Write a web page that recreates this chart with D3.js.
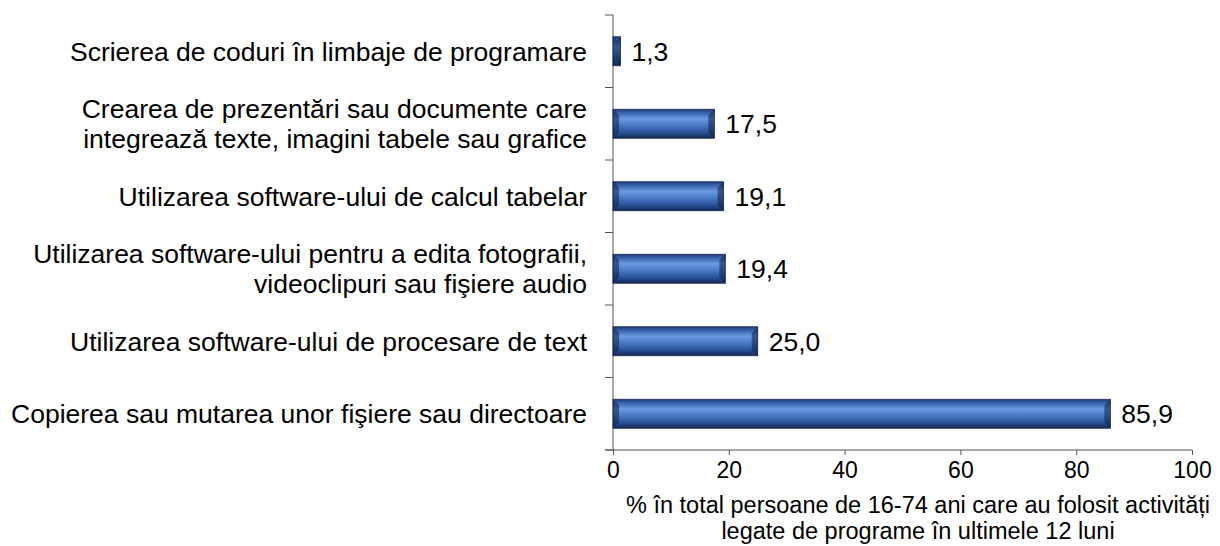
<!DOCTYPE html>
<html>
<head>
<meta charset="utf-8">
<script src="https://cdn.jsdelivr.net/npm/d3@7"></script>
<style>
  body { margin: 0; background: #fff; }
  svg text { font-family: "Liberation Sans", Arial, sans-serif; fill: #000; }
</style>
</head>
<body>
<div id="chart"></div>
<script>
// categories, top to bottom (each entry = lines of the label)
var categories = [
    ["Scrierea de coduri în limbaje de programare"],
    ["Crearea de prezentări sau documente care", "integrează texte, imagini tabele sau grafice"],
    ["Utilizarea software-ului de calcul tabelar"],
    ["Utilizarea software-ului pentru a edita fotografii,", "videoclipuri sau fişiere audio"],
    ["Utilizarea software-ului de procesare de text"],
    ["Copierea sau mutarea unor fişiere sau directoare"]
];
var values = [1.3, 17.5, 19.1, 19.4, 25.0, 85.9];
var xTicks = [0, 20, 40, 60, 80, 100];
var axisTitle = ["% în total persoane de 16-74 ani care au folosit activități", "legate de programe  în ultimele 12 luni"];

var width = 1220, height = 546;
var margin = { left: 613, right: 28, top: 15, bottom: 96 };

var svg = d3.select('#chart').append('svg')
    .attr('width', width)
    .attr('height', height);

var defs = svg.append('defs');
var grad = defs.append('linearGradient')
    .attr('id', 'barGrad')
    .attr('x1', 0).attr('y1', 0).attr('x2', 0).attr('y2', 1);
[[0, '#203b70'], [0.12, '#3560ac'], [0.33, '#6a9ae0'], [0.48, '#5585d0'],
 [0.75, '#2f5ba6'], [0.9, '#213d76'], [1, '#142850']].forEach(function (s) {
    grad.append('stop').attr('offset', s[0]).attr('stop-color', s[1]);
});

var g = svg.append('g').attr('transform', 'translate(' + margin.left + ',' + margin.top + ')');
var w = width - margin.left - margin.right;
var h = height - margin.top - margin.bottom;

var x = d3.scaleLinear().domain([0, 100]).range([0, w]);
var band = h / categories.length;

// x axis
var xAxis = g.append('g')
    .attr('transform', 'translate(0,' + h + ')')
    .call(d3.axisBottom(x).tickValues(xTicks).tickSize(5).tickPadding(7));
xAxis.attr('font-size', 23).attr('font-family', null);
xAxis.select('.domain').attr('stroke', '#555').attr('d', 'M-8,0H' + w);
xAxis.selectAll('.tick line').attr('stroke', '#555');
xAxis.selectAll('.tick text').style('font-size', '23px').attr('fill', '#000');

// y axis line + ticks at band boundaries
g.append('line').attr('x1', 0).attr('x2', 0).attr('y1', 0).attr('y2', h).attr('stroke', '#555');
g.selectAll('.ytick').data(d3.range(categories.length + 1)).enter().append('line')
    .attr('class', 'ytick')
    .attr('x1', -8).attr('x2', 0)
    .attr('y1', function (d) { return d * band; })
    .attr('y2', function (d) { return d * band; })
    .attr('stroke', '#555');

// bars
var bars = g.selectAll('.bar').data(values).enter().append('g').attr('class', 'bar');
var bh = 29;
bars.append('rect')
    .attr('x', 0)
    .attr('y', function (d, i) { return (i + 0.5) * band - bh / 2; })
    .attr('width', function (d) { return x(d); })
    .attr('height', bh)
    .attr('fill', 'url(#barGrad)')
    .attr('stroke', '#1b2d55')
    .attr('stroke-width', 0.8);

// bevel ends
bars.append('path')
    .attr('d', function (d, i) {
        var y0 = (i + 0.5) * band - bh / 2, y1 = y0 + bh, bw = Math.min(6, x(d) / 2), xe = x(d);
        return 'M0,' + y0 + 'L' + bw + ',' + (y0 + bw) + 'L' + bw + ',' + (y1 - bw) + 'L0,' + y1 + 'Z' +
            'M' + xe + ',' + y0 + 'L' + (xe - bw) + ',' + (y0 + bw) + 'L' + (xe - bw) + ',' + (y1 - bw) + 'L' + xe + ',' + y1 + 'Z';
    })
    .attr('fill', '#0f2040')
    .attr('opacity', 0.55);

// value labels
g.selectAll('.val').data(values).enter().append('text')
    .attr('class', 'val')
    .attr('x', function (d) { return x(d) + 11; })
    .attr('y', function (d, i) { return (i + 0.5) * band; })
    .attr('dy', '0.36em')
    .style('font-size', '26.5px')
    .text(function (d) { return d3.format('.1f')(d).replace('.', ','); });

// category labels
var lineH = 30;
g.selectAll('.cat').data(categories).enter().append('text')
    .attr('class', 'cat')
    .attr('text-anchor', 'end')
    .style('font-size', '26.5px')
    .each(function (lines, i) {
        var t = d3.select(this);
        var cy = (i + 0.5) * band - (lines.length - 1) * lineH / 2;
        lines.forEach(function (l, k) {
            t.append('tspan')
                .attr('x', -26)
                .attr('y', cy + k * lineH)
                .attr('dy', '0.36em')
                .text(l);
        });
    });

// axis title
svg.append('text')
    .attr('text-anchor', 'middle')
    .style('font-size', '23.5px')
    .selectAll('tspan').data(axisTitle).enter().append('tspan')
    .attr('x', 918)
    .attr('y', function (d, i) { return 513 + i * 26; })
    .text(function (d) { return d; });
</script>
</body>
</html>
